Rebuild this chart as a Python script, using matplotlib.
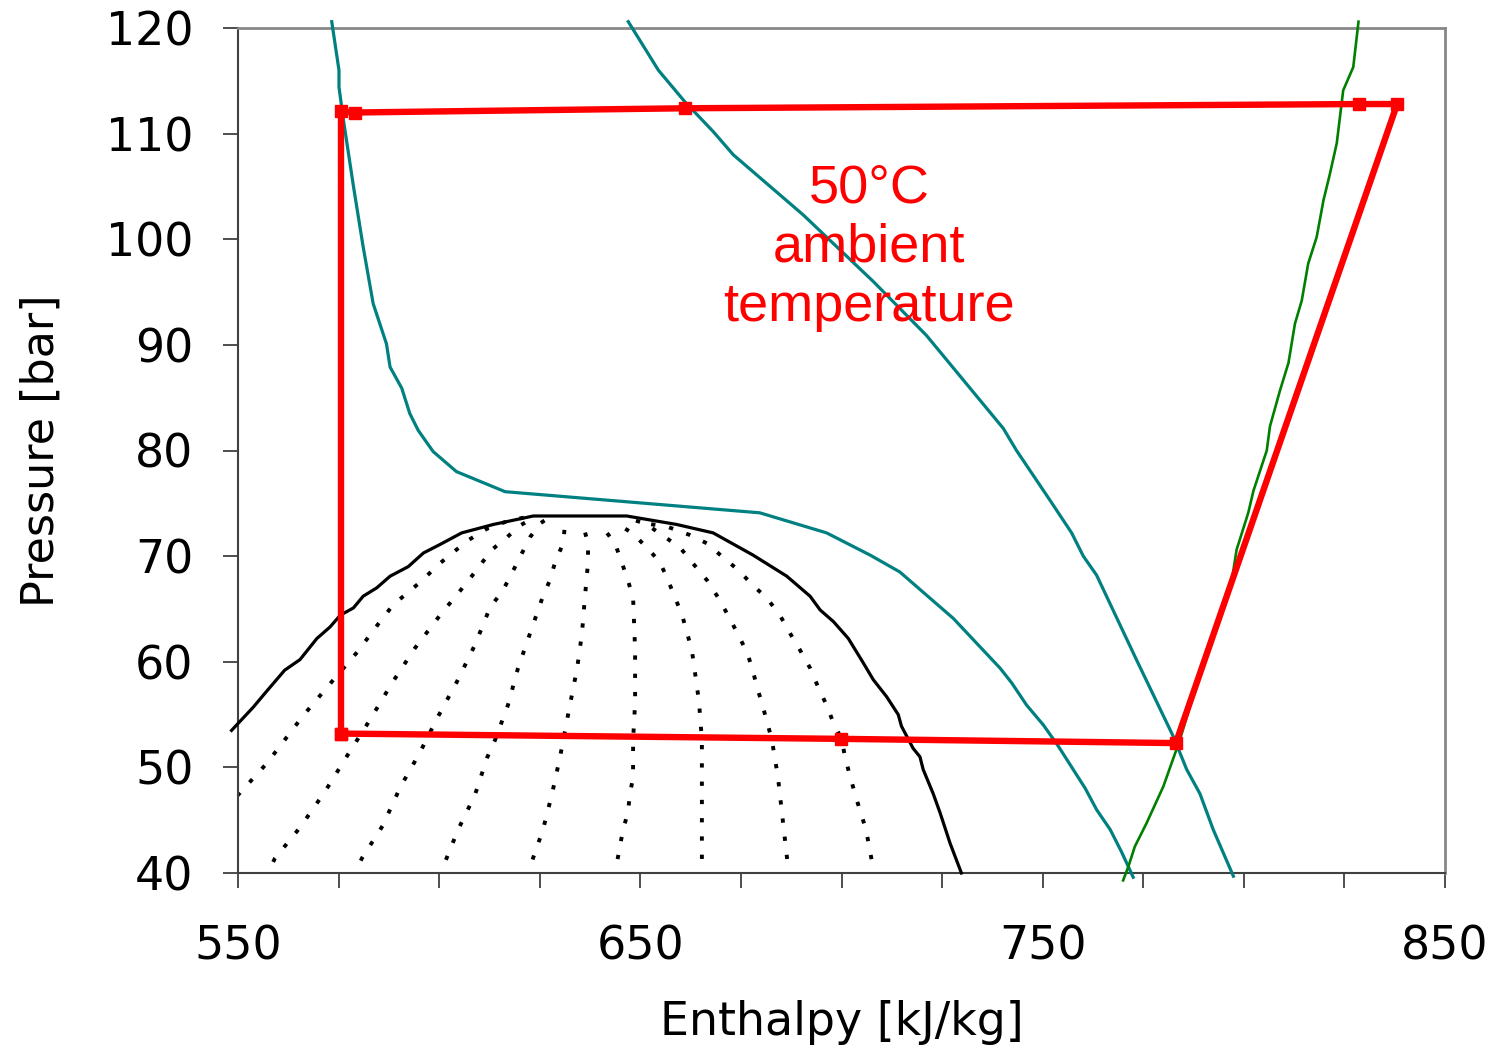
import numpy as np
import matplotlib
matplotlib.use("Agg")
import matplotlib.pyplot as plt

# red cycle (enthalpy kJ/kg, pressure bar)
cycle_h = [575.6, 575.6, 579.1, 661.1, 828.6, 838.1, 783.1, 699.9, 575.6]
cycle_p = [53.2, 112.1, 112.0, 112.4, 112.8, 112.8, 52.3, 52.7, 53.2]

# saturation dome
dome_h = [548.4, 553.8, 557.1, 561.6, 565.4, 569.6, 572.9, 575.4, 578.7, 581.1, 584.5, 587.8,
          592.3, 596.1, 600.2, 605.6, 613.5, 623.4, 646.6, 659.0, 668.1, 678.0, 686.4, 692.2,
          694.7, 698.0, 701.7, 705.4, 707.9, 711.2, 714.1, 714.9, 717.8, 719.5, 720.3, 722.8,
          724.5, 727.0, 729.8]
dome_p = [53.5, 55.7, 57.2, 59.2, 60.2, 62.2, 63.3, 64.4, 65.1, 66.2, 67.0, 68.1,
          69.0, 70.3, 71.1, 72.2, 73.0, 73.8, 73.8, 73.0, 72.2, 70.1, 68.1, 66.2,
          64.9, 63.8, 62.2, 59.9, 58.3, 56.7, 55.0, 53.9, 51.8, 51.0, 49.8, 47.5,
          45.7, 42.8, 40.0]

# isotherms (teal)
iso1_h = [573.3, 575.1, 575.1, 576.2, 578.7, 581.1, 583.6, 586.9, 587.8, 590.7, 592.7, 594.8,
          598.5, 604.3, 616.4, 679.7, 696.3, 707.1, 714.5, 727.8, 739.4, 742.3, 746.0, 750.2,
          753.9, 760.6, 763.4, 766.8, 769.6, 772.5]
iso1_p = [120.6, 116.0, 114.4, 111.3, 105.0, 99.3, 93.9, 90.1, 87.9, 85.9, 83.5, 81.9,
          79.9, 78.0, 76.1, 74.1, 72.2, 70.1, 68.5, 64.1, 59.4, 58.0, 55.9, 54.0,
          52.0, 48.0, 46.0, 44.1, 42.0, 39.6]
iso2_h = [647.0, 654.5, 661.1, 668.1, 673.1, 690.5, 707.9, 721.1, 740.2, 743.5, 751.8, 757.2,
          760.1, 763.4, 773.3, 782.5, 785.8, 789.1, 792.4, 797.4]
iso2_p = [120.6, 116.0, 113.0, 110.2, 108.0, 102.3, 96.0, 90.9, 82.1, 80.0, 75.3, 72.2,
          70.0, 68.2, 60.2, 52.9, 49.8, 47.5, 44.1, 39.7]

# isentrope (green)
isen_h = [828.5, 827.2, 824.7, 823.1, 821.4, 819.8, 818.1, 816.0, 814.4, 812.7, 811.1, 809.0,
          806.5, 805.7, 802.4, 801.1, 798.2, 797.0, 790.8, 784.1, 780.0, 775.8, 772.9, 771.3, 770.0]
isen_p = [120.6, 116.3, 114.1, 109.1, 106.2, 103.7, 100.2, 97.7, 94.2, 92.0, 88.3, 85.7,
          82.3, 80.0, 76.2, 74.1, 70.6, 67.7, 61.1, 52.6, 48.2, 44.7, 42.5, 40.6, 39.3]

# vapour quality lines x = 0.1 ... 0.9 (h, p)
q1 = [(549.8, 47.3), (557.2, 50.4), (566.2, 54.9), (572.4, 57.7), (579.6, 60.9), (585.3, 63.8),
      (588.6, 65.4), (595.8, 67.7), (599.5, 69.1), (603.3, 70.3), (607.2, 71.5), (611.9, 72.6),
      (617.6, 73.4), (623.3, 73.8)]
q2 = [(556.7, 39.5), (559.2, 41.4), (565.4, 44.3), (571.6, 47.7), (577.3, 51.2), (582.8, 54.5),
      (588.3, 58.0), (594.0, 61.3), (600.2, 64.4), (606.9, 67.5), (613.1, 70.6), (616.9, 71.8),
      (620.1, 72.9), (623.8, 73.7)]
q3 = [(578.6, 39.6), (580.8, 41.4), (586.0, 44.5), (590.3, 48.1), (595.2, 51.4), (599.7, 54.8),
      (604.4, 58.1), (608.9, 61.6), (612.6, 65.1), (615.9, 66.8), (618.1, 68.4), (620.6, 70.3),
      (622.6, 71.8), (625.1, 73.1), (627.5, 73.7)]
q4 = [(600.3, 39.6), (601.0, 40.6), (604.7, 44.1), (608.9, 47.4), (611.9, 50.9), (613.9, 52.6),
      (617.1, 55.9), (619.6, 59.4), (622.6, 62.7), (625.6, 66.0), (627.5, 67.7), (628.8, 69.4),
      (630.8, 71.2), (631.3, 73.1)]
q5 = [(622.2, 39.6), (622.6, 40.6), (625.8, 44.1), (628.0, 47.4), (630.0, 50.9), (632.5, 55.9),
      (634.3, 59.4), (635.5, 62.7), (636.2, 66.0), (637.0, 69.4), (637.0, 71.2), (635.8, 72.9)]
q6 = [(643.8, 39.6), (644.0, 40.6), (645.7, 44.1), (646.9, 45.7), (647.4, 47.4), (648.2, 49.1),
      (648.2, 52.6), (648.7, 56.1), (648.7, 61.1), (648.2, 66.1), (646.9, 67.7), (645.4, 69.4),
      (643.7, 71.2), (640.7, 72.7)]
q7 = [(665.3, 39.6), (665.3, 52.6), (664.6, 56.1), (664.1, 57.6), (662.8, 61.1), (660.4, 64.4),
      (658.6, 66.1), (656.9, 67.7), (654.9, 69.4), (651.7, 70.8), (647.9, 72.2), (643.7, 73.2)]
q8 = [(686.9, 39.6), (686.7, 40.6), (685.2, 45.7), (684.2, 49.1), (682.7, 52.6), (681.5, 54.3),
      (680.2, 56.1), (679.0, 57.6), (677.8, 59.4), (676.5, 60.9), (674.0, 62.8), (671.8, 64.4),
      (669.3, 66.1), (666.6, 67.7), (663.1, 69.3), (659.9, 70.8), (655.4, 72.0), (651.2, 73.1),
      (646.7, 73.6)]
q9 = [(708.1, 39.6), (707.8, 40.6), (706.1, 44.1), (703.4, 47.4), (700.9, 50.9), (700.1, 52.6),
      (697.9, 54.3), (696.4, 55.8), (694.2, 57.6), (692.2, 59.4), (689.7, 61.1), (687.2, 62.7),
      (684.7, 64.4), (681.5, 66.0), (677.8, 67.3), (674.3, 68.7), (670.5, 69.9), (666.6, 71.2),
      (662.3, 72.0), (656.6, 72.8), (651.2, 73.1)]
quality_lines = [q1, q2, q3, q4, q5, q6, q7, q8, q9]

x_ticks = list(range(550, 851, 25))
x_labels = [str(t) if (t - 550) % 100 == 0 else "" for t in x_ticks]
y_ticks = list(range(40, 121, 10))

fig = plt.figure(figsize=(14.99, 10.49), dpi=100)
ax = fig.add_axes([238 / 1499, 1 - 873 / 1049, 1207 / 1499, 845 / 1049])

for q in quality_lines:
    qh = [v[0] for v in q]
    qp = [v[1] for v in q]
    ax.plot(qh, qp, color="black", lw=2.8, linestyle=(0, (1.1, 3.6)), zorder=2)

ax.plot(dome_h, dome_p, color="black", lw=2.3, clip_on=False, zorder=3)
ax.plot(iso1_h, iso1_p, color="#008080", lw=2.3, clip_on=False, zorder=3)
ax.plot(iso2_h, iso2_p, color="#008080", lw=2.3, clip_on=False, zorder=3)
ax.plot(isen_h, isen_p, color="#008000", lw=1.9, clip_on=False, zorder=3)
ax.plot(cycle_h, cycle_p, color="red", lw=4.6, marker="s", markersize=9, zorder=4)

ax.text(706.8, 99.2, "50°C\nambient\ntemperature", color="red", fontsize=39,
        family="Liberation Sans", ha="center", va="center", multialignment="center",
        linespacing=1.24)

ax.set_xlim(550, 850)
ax.set_ylim(40, 120)
ax.set_xticks(x_ticks)
ax.set_xticklabels(x_labels)
ax.set_yticks(y_ticks)
ax.tick_params(axis="both", direction="out", length=11, width=1.3, colors="#404040",
               labelcolor="black", labelsize=33)
ax.tick_params(axis="x", pad=26)
ax.tick_params(axis="y", pad=21)

for s in ["left", "bottom"]:
    ax.spines[s].set_color("#404040")
    ax.spines[s].set_linewidth(1.5)
for s in ["top", "right"]:
    ax.spines[s].set_color("#888888")
    ax.spines[s].set_linewidth(2)

ax.set_xlabel("Enthalpy [kJ/kg]", fontsize=33)
ax.set_ylabel("Pressure [bar]", fontsize=32)
ax.xaxis.set_label_coords(0.5, -0.150)
ax.yaxis.set_label_coords(-0.145, 0.5)

fig.savefig("out.png", dpi=100)
